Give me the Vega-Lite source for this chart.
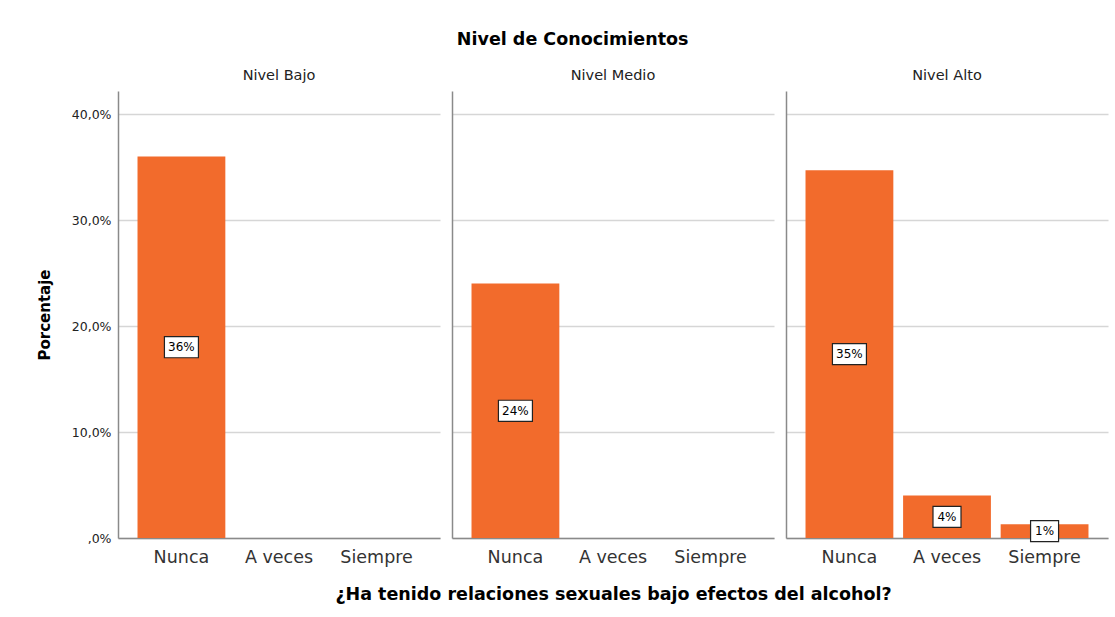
{
  "$schema": "https://vega.github.io/schema/vega-lite/v6.json",
  "background": "white",
  "bounds": "flush",
  "padding": {"left": 37, "top": 31, "right": 4, "bottom": 4},
  "data": {"values": [
    {"nivel": "Nivel Bajo", "resp": "Nunca", "pct": 36.0, "label": "36%"},
    {"nivel": "Nivel Medio", "resp": "Nunca", "pct": 24.0, "label": "24%"},
    {"nivel": "Nivel Alto", "resp": "Nunca", "pct": 34.7, "label": "35%"},
    {"nivel": "Nivel Alto", "resp": "A veces", "pct": 4.0, "label": "4%"},
    {"nivel": "Nivel Alto", "resp": "Siempre", "pct": 1.3, "label": "1%"}
  ]},
  "title": {"text": "Nivel de Conocimientos", "fontSize": 17.5, "fontWeight": "bold", "color": "#000", "anchor": "middle", "offset": 19},
  "spacing": 12,
  "hconcat": [
    {
      "width": 322, "height": 447,
      "title": {"text": "Nivel Bajo", "fontSize": 14.5, "fontWeight": "normal", "color": "#222", "offset": 8},
      "transform": [{"filter": "datum.nivel == 'Nivel Bajo'"}, {"calculate": "datum.pct / 2", "as": "mid"}],
      "encoding": {
        "x": {"field": "resp", "type": "nominal", "sort": ["Nunca", "A veces", "Siempre"],
              "scale": {"domain": ["Nunca", "A veces", "Siempre"], "paddingInner": 0.1, "paddingOuter": 0.2},
              "axis": {"title": null}}
      },
      "layer": [
        {"mark": {"type": "bar", "color": "#F26B2C"},
         "encoding": {"y": {"field": "pct", "type": "quantitative", "scale": {"domain": [0, 42.17], "nice": false},
           "axis": {"title": "Porcentaje", "values": [0, 10, 20, 30, 40],
                    "labelExpr": "datum.value == 0 ? ',0%' : replace(format(datum.value, '.1f'), '.', ',') + '%'"}}}},
        {"mark": {"type": "point", "filled": true, "fill": "white", "stroke": "#222", "strokeWidth": 1.2, "opacity": 1},
         "encoding": {"y": {"field": "mid", "type": "quantitative"},
           "shape": {"condition": {"test": "length(datum.label) < 3", "value": "M-1,-0.75H1V0.75H-1Z"}, "value": "M-1,-0.62H1V0.62H-1Z"},
           "size": {"condition": {"test": "length(datum.label) < 3", "value": 784}, "value": 1156}}},
        {"mark": {"type": "text", "fontSize": 12, "color": "#000", "baseline": "middle"},
         "encoding": {"y": {"field": "mid", "type": "quantitative"}, "text": {"field": "label"}}}
      ]
    },
    {
      "width": 322, "height": 447,
      "title": {"text": "Nivel Medio", "fontSize": 14.5, "fontWeight": "normal", "color": "#222", "offset": 8},
      "transform": [{"filter": "datum.nivel == 'Nivel Medio'"}, {"calculate": "datum.pct / 2", "as": "mid"}],
      "encoding": {
        "x": {"field": "resp", "type": "nominal", "sort": ["Nunca", "A veces", "Siempre"],
              "scale": {"domain": ["Nunca", "A veces", "Siempre"], "paddingInner": 0.1, "paddingOuter": 0.2},
              "axis": {"title": "¿Ha tenido relaciones sexuales bajo efectos del alcohol?"}}
      },
      "layer": [
        {"mark": {"type": "bar", "color": "#F26B2C"},
         "encoding": {"y": {"field": "pct", "type": "quantitative", "scale": {"domain": [0, 42.17], "nice": false},
           "axis": {"title": null, "labels": false, "values": [0, 10, 20, 30, 40]}}}},
        {"mark": {"type": "point", "filled": true, "fill": "white", "stroke": "#222", "strokeWidth": 1.2, "opacity": 1},
         "encoding": {"y": {"field": "mid", "type": "quantitative"},
           "shape": {"condition": {"test": "length(datum.label) < 3", "value": "M-1,-0.75H1V0.75H-1Z"}, "value": "M-1,-0.62H1V0.62H-1Z"},
           "size": {"condition": {"test": "length(datum.label) < 3", "value": 784}, "value": 1156}}},
        {"mark": {"type": "text", "fontSize": 12, "color": "#000", "baseline": "middle"},
         "encoding": {"y": {"field": "mid", "type": "quantitative"}, "text": {"field": "label"}}}
      ]
    },
    {
      "width": 322, "height": 447,
      "title": {"text": "Nivel Alto", "fontSize": 14.5, "fontWeight": "normal", "color": "#222", "offset": 8},
      "transform": [{"filter": "datum.nivel == 'Nivel Alto'"}, {"calculate": "datum.pct / 2", "as": "mid"}],
      "encoding": {
        "x": {"field": "resp", "type": "nominal", "sort": ["Nunca", "A veces", "Siempre"],
              "scale": {"domain": ["Nunca", "A veces", "Siempre"], "paddingInner": 0.1, "paddingOuter": 0.2},
              "axis": {"title": null}}
      },
      "layer": [
        {"mark": {"type": "bar", "color": "#F26B2C"},
         "encoding": {"y": {"field": "pct", "type": "quantitative", "scale": {"domain": [0, 42.17], "nice": false},
           "axis": {"title": null, "labels": false, "values": [0, 10, 20, 30, 40]}}}},
        {"mark": {"type": "point", "filled": true, "fill": "white", "stroke": "#222", "strokeWidth": 1.2, "opacity": 1},
         "encoding": {"y": {"field": "mid", "type": "quantitative"},
           "shape": {"condition": {"test": "length(datum.label) < 3", "value": "M-1,-0.75H1V0.75H-1Z"}, "value": "M-1,-0.62H1V0.62H-1Z"},
           "size": {"condition": {"test": "length(datum.label) < 3", "value": 784}, "value": 1156}}},
        {"mark": {"type": "text", "fontSize": 12, "color": "#000", "baseline": "middle"},
         "encoding": {"y": {"field": "mid", "type": "quantitative"}, "text": {"field": "label"}}}
      ]
    }
  ],
  "config": {
    "font": "DejaVu Sans",
    "view": {"stroke": null},
    "concat": {"spacing": 12},
    "axisX": {"labelAngle": 0, "labelFontSize": 17.5, "labelColor": "#333", "ticks": false, "domainColor": "#8a8a8a", "domainWidth": 1.5,
              "labelPadding": 10, "titleFontSize": 17.5, "titleFontWeight": "bold", "titleColor": "#000", "titlePadding": 20, "grid": false},
    "axisY": {"ticks": false, "domainColor": "#8a8a8a", "domainWidth": 1.5, "grid": true, "gridColor": "#d6d6d6", "gridWidth": 1.5,
              "labelFontSize": 12.5, "labelColor": "#222", "labelPadding": 7, "titleFontSize": 15, "titleFontWeight": "bold", "titleColor": "#000", "titlePadding": 19}
  }
}
